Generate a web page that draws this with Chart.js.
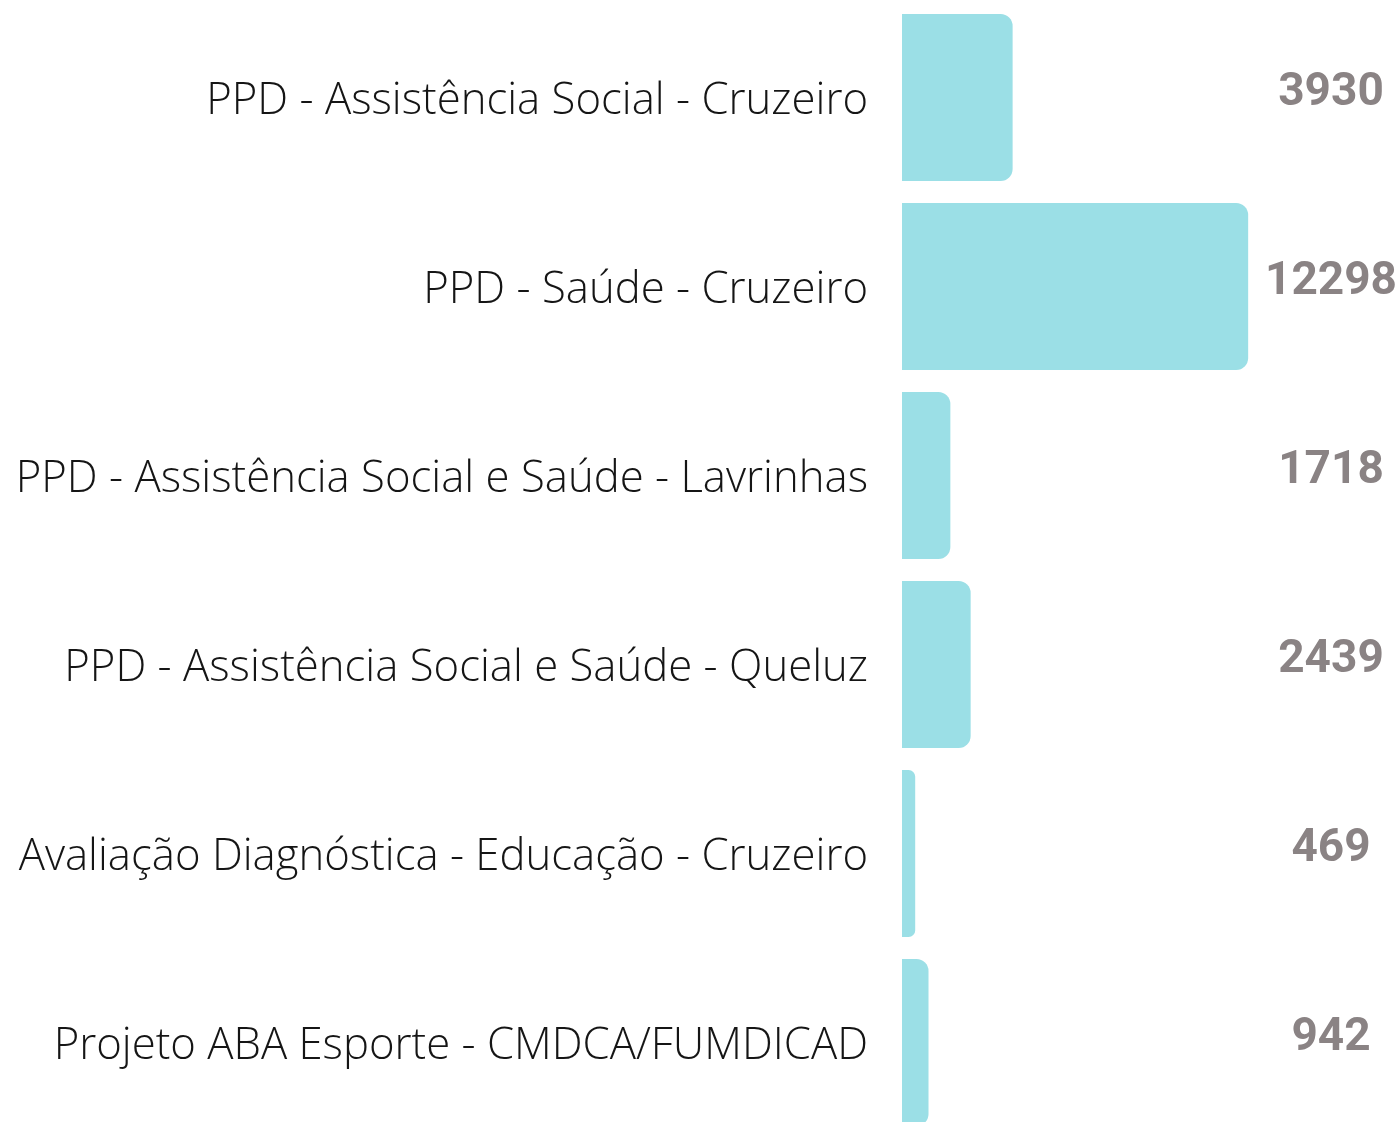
<!DOCTYPE html>
<html>
<head>
<meta charset="utf-8">
<script src="https://cdn.jsdelivr.net/npm/chart.js@4.4.1/dist/chart.umd.min.js"></script>
<style>
    html, body { margin: 0; padding: 0; background: #fff; overflow: hidden; }
    #wrap { position: relative; width: 1396px; height: 1140px; }
</style>
</head>
<body>
<div id="wrap"><canvas id="chart"></canvas></div>
<script>
const categories = [
    "PPD - Assistência Social - Cruzeiro",
    "PPD - Saúde - Cruzeiro",
    "PPD - Assistência Social e Saúde - Lavrinhas",
    "PPD - Assistência Social e Saúde - Queluz",
    "Avaliação Diagnóstica - Educação - Cruzeiro",
    "Projeto ABA Esporte - CMDCA/FUMDICAD"
];
const values = [3930, 12298, 1718, 2439, 469, 942];

const barColor = "#9bdfe6";
const valueColor = "#8a8384";

// draws the totals in a column at the right edge
const valueLabels = {
    id: "valueLabels",
    afterDatasetsDraw(chart) {
        const ctx = chart.ctx;
        const meta = chart.getDatasetMeta(0);
        const x = chart.chartArea.right - 65;
        ctx.save();
        ctx.font = "bold 46px Roboto";
        ctx.fillStyle = valueColor;
        ctx.textAlign = "center";
        ctx.textBaseline = "middle";
        meta.data.forEach((bar, i) => {
            ctx.fillText(String(values[i]), x, bar.y - 4);
        });
        ctx.restore();
    }
};

const ctx = document.getElementById('chart').getContext('2d');
const chart = new Chart(ctx, {
    "type": "bar",
    "data": {
        "labels": categories,
        "datasets": [{
            "label": "Total",
            "data": values,
            "backgroundColor": barColor,
            "borderSkipped": "start",
            "borderRadius": { "topRight": 12, "bottomRight": 12, "topLeft": 0, "bottomLeft": 0 },
            "categoryPercentage": 1,
            "barPercentage": 0.884
        }]
    },
    "options": {
        "indexAxis": "y",
        "responsive": true,
        "maintainAspectRatio": false,
        "animation": false,
        "layout": { "padding": { "top": 3, "bottom": 3, "left": 0, "right": 0 } },
        "plugins": {
            "legend": { "display": false },
            "tooltip": { "enabled": false }
        },
        "scales": {
            "x": {
                "display": false,
                "min": 0,
                "max": 17550
            },
            "y": {
                "afterFit": function (scale) {
                    scale.width = 902;
                    scale.paddingTop = 0;
                    scale.paddingBottom = 0;
                },
                "grid": { "display": false, "drawTicks": false },
                "border": { "display": false },
                "ticks": {
                    "padding": 34,
                    "labelOffset": 4,
                    "color": "#151515",
                    "font": { "family": "'Open Sans'", "size": 43.7, "weight": 300 }
                }
            }
        }
    },
    "plugins": [valueLabels]
});
</script>
</body>
</html>
